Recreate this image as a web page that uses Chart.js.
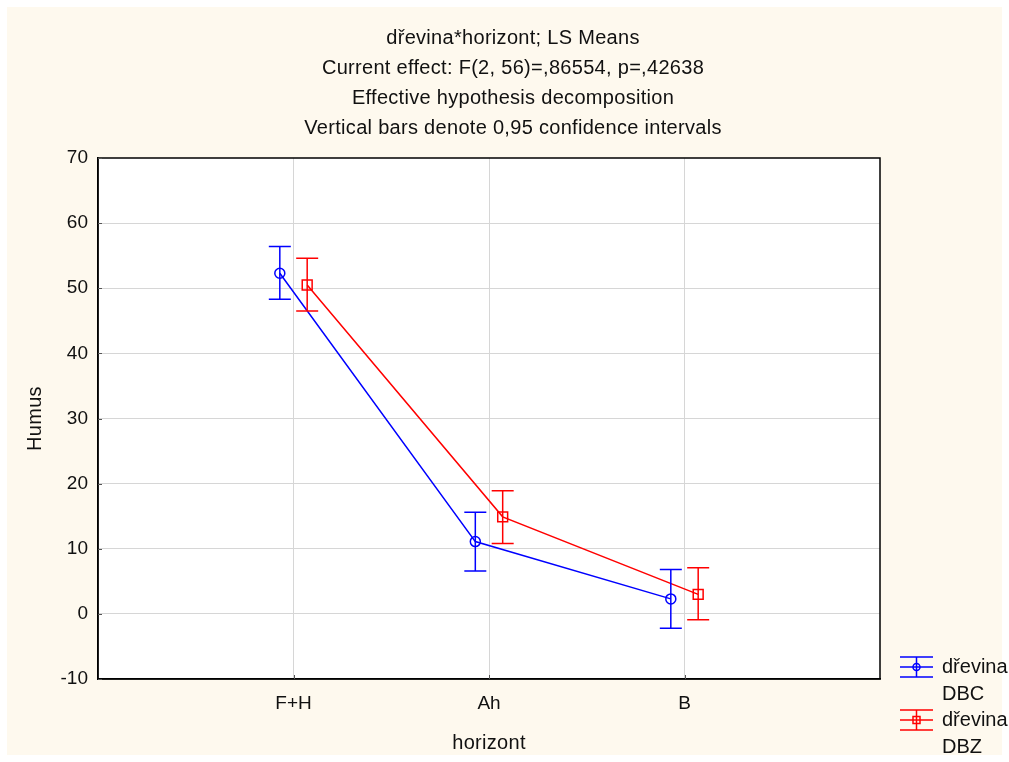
<!DOCTYPE html>
<html><head><meta charset="utf-8">
<script src="https://cdn.jsdelivr.net/npm/chart.js@4/dist/chart.umd.min.js"></script>
<style>html,body{margin:0;padding:0;background:#fff;}#wrap{width:1009px;height:762px;}</style>
</head><body><div id="wrap"><canvas id="c" width="1009" height="762"></canvas></div>
<script>
const categories = ['F+H', 'Ah', 'B'];
const seriesNames = ['dřevina\nDBC', 'dřevina\nDBZ'];
const dbcMean = [52.3, 11.1, 2.3];
const dbcLow = [48.3, 6.6, -2.2];
const dbcHigh = [56.4, 15.6, 6.8];
const dbzMean = [50.5, 14.9, 3.0];
const dbzLow = [46.5, 10.8, -0.9];
const dbzHigh = [54.6, 18.9, 7.1];
const yTicks = [-10, 0, 10, 20, 30, 40, 50, 60, 70];
const titleLines = ['dřevina*horizont; LS Means', 'Current effect: F(2, 56)=,86554, p=,42638', 'Effective hypothesis decomposition', 'Vertical bars denote 0,95 confidence intervals'];
const xTitle = 'horizont';
const yTitle = 'Humus';

const FONT = '"Liberation Sans", Arial, sans-serif';
const BLUE = '#0000ff', RED = '#ff0000';
const OFFSET = 0.07;

function pts(means, off) { return means.map((v, i) => ({x: i + 1 + off, y: v})); }
const series = [
  {name: seriesNames[0], mean: dbcMean, low: dbcLow, high: dbcHigh, color: BLUE, off: -OFFSET, style: 'circle'},
  {name: seriesNames[1], mean: dbzMean, low: dbzLow, high: dbzHigh, color: RED, off: OFFSET, style: 'rect'}
];

const deco = {
  id: 'deco',
  beforeDraw(chart) {
    const c = chart.ctx;
    c.save();
    c.fillStyle = '#ffffff'; c.fillRect(0, 0, chart.width, chart.height);
    c.fillStyle = '#fef9ee'; c.fillRect(7, 7, chart.width - 14, chart.height - 14);
    const a = chart.chartArea;
    c.fillStyle = '#ffffff'; c.fillRect(a.left, a.top, a.right - a.left, a.bottom - a.top);
    c.restore();
  },
  afterDatasetsDraw(chart) {
    const c = chart.ctx, xs = chart.scales.x, ys = chart.scales.y;
    c.save();
    c.lineWidth = 1.5;
    series.forEach(s => {
      c.strokeStyle = s.color;
      s.mean.forEach((m, i) => {
        const x = xs.getPixelForValue(i + 1 + s.off);
        const yl = ys.getPixelForValue(s.low[i]), yh = ys.getPixelForValue(s.high[i]);
        c.beginPath();
        c.moveTo(x, yl); c.lineTo(x, yh);
        c.moveTo(x - 11, yl); c.lineTo(x + 11, yl);
        c.moveTo(x - 11, yh); c.lineTo(x + 11, yh);
        c.stroke();
      });
    });
    c.restore();
  },
  afterDraw(chart) {
    const c = chart.ctx, a = chart.chartArea, xs = chart.scales.x, ys = chart.scales.y;
    c.save();
    c.strokeStyle = '#000'; c.lineWidth = 1.5;
    c.strokeRect(a.left, a.top, a.right - a.left, a.bottom - a.top);
    c.lineWidth = 1;
    c.strokeStyle = '#555';
    c.beginPath();
    yTicks.forEach(v => { const y = Math.round(ys.getPixelForValue(v)) + 0.5; c.moveTo(a.left, y); c.lineTo(a.left + 4, y); });
    categories.forEach((cat, i) => { const x = Math.round(xs.getPixelForValue(i + 1)) + 0.5; c.moveTo(x, a.bottom); c.lineTo(x, a.bottom - 4); });
    c.stroke();
    c.fillStyle = '#111';
    c.font = '20px ' + FONT;
    c.letterSpacing = '0.3px';
    c.textAlign = 'center'; c.textBaseline = 'middle';
    titleLines.forEach((t, i) => c.fillText(t, 513, 38 + i * 30));
    c.fillText(xTitle, 489, 743);
    c.save();
    c.translate(35, (a.top + a.bottom) / 2);
    c.rotate(-Math.PI / 2);
    c.fillText(yTitle, 0, 0);
    c.restore();
    c.letterSpacing = '0px';
    series.forEach((s, k) => {
      const cy = 667 + k * 53;
      const x0 = 900, x1 = 933, xm = 916.5;
      c.strokeStyle = s.color; c.lineWidth = 1.5;
      c.beginPath();
      c.moveTo(x0, cy - 10); c.lineTo(x1, cy - 10);
      c.moveTo(x0, cy); c.lineTo(x1, cy);
      c.moveTo(x0, cy + 10); c.lineTo(x1, cy + 10);
      c.moveTo(xm, cy - 10); c.lineTo(xm, cy + 10);
      c.stroke();
      c.beginPath();
      if (s.style === 'circle') c.arc(xm, cy, 3.5, 0, Math.PI * 2);
      else c.rect(xm - 3.5, cy - 3.5, 7, 7);
      c.stroke();
      c.fillStyle = '#111';
      c.textAlign = 'left';
      s.name.split('\n').forEach((ln, j) => c.fillText(ln, 942, cy + j * 27));
    });
    c.restore();
  }
};

new Chart(document.getElementById('c'), {
  type: 'line',
  data: {
    datasets: series.map(s => ({
      label: s.name,
      data: pts(s.mean, s.off),
      borderColor: s.color,
      backgroundColor: 'rgba(0,0,0,0)',
      borderWidth: 1.5,
      pointStyle: s.style,
      pointRadius: s.style === 'rect' ? 7 : 5,
      pointBorderWidth: 1.5,
      pointBorderColor: s.color,
      pointBackgroundColor: 'rgba(0,0,0,0)',
      tension: 0,
      fill: false
    }))
  },
  options: {
    responsive: false,
    animation: false,
    devicePixelRatio: 1,
    layout: {padding: {left: 0, right: 129, top: 158, bottom: 0}},
    plugins: {legend: {display: false}, title: {display: false}, tooltip: {enabled: false}},
    scales: {
      x: {
        type: 'linear', min: 0, max: 4,
        afterFit(s) { s.height = 83; },
        afterBuildTicks(s) { s.ticks = [0, 1, 2, 3, 4].map(v => ({value: v})); },
        ticks: {
          padding: 13, color: '#111', font: {family: FONT, size: 19},
          autoSkip: false, maxRotation: 0,
          callback: v => (v >= 1 && v <= categories.length) ? categories[v - 1] : ''
        },
        grid: {
          drawTicks: false, lineWidth: 1,
          color: ctx => (ctx.tick && (ctx.tick.value === 0 || ctx.tick.value === 4)) ? 'rgba(0,0,0,0)' : '#d6d6d6'
        },
        border: {display: true, color: '#000', width: 1.5}
      },
      y: {
        type: 'linear', min: -10, max: 70,
        afterFit(s) { s.width = 98; },
        afterBuildTicks(s) { s.ticks = yTicks.map(v => ({value: v})); },
        ticks: {padding: 10, color: '#111', font: {family: FONT, size: 19}},
        grid: {
          drawTicks: false, lineWidth: 1,
          color: ctx => (ctx.tick && (ctx.tick.value === -10 || ctx.tick.value === 70)) ? 'rgba(0,0,0,0)' : '#d6d6d6'
        },
        border: {display: true, color: '#000', width: 1.5}
      }
    }
  },
  plugins: [deco]
});
</script></body></html>
